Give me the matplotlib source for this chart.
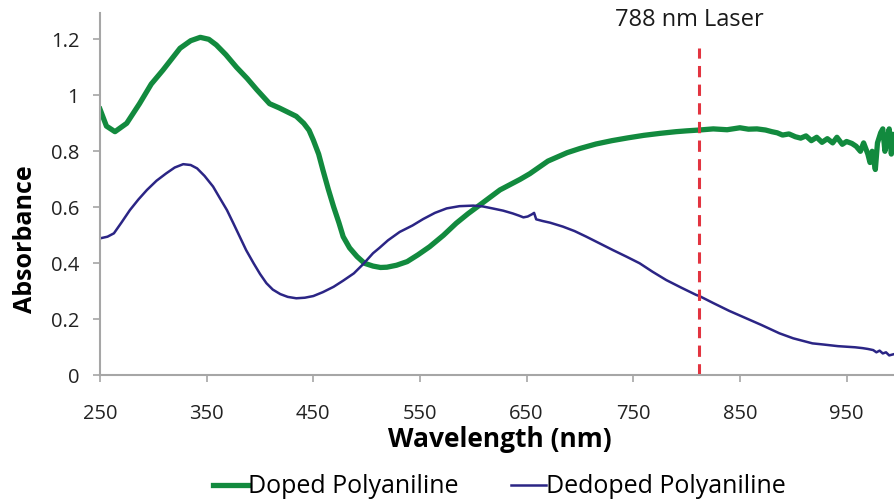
'''
UV-Vis absorbance of doped / dedoped polyaniline
'''

# Imports
import matplotlib
matplotlib.use('Agg')
import matplotlib.pyplot as plt

# Data
doped_nm = [250, 256, 264, 275, 287, 298, 309, 325, 335, 344, 352, 359, 368, 378, 388, 397,
            409, 418, 426, 434, 441, 446, 450, 455, 459, 464, 469, 474, 478, 484, 491, 498,
            506, 513, 519, 528, 538, 548, 559, 572, 584, 595, 606, 625, 644, 653, 670, 688,
            700, 715, 730, 745, 760, 775, 790, 800, 812, 825, 838, 850, 858, 866, 874, 880,
            885, 890, 896, 902, 907, 912, 917, 922, 927, 932, 937, 941, 946, 950, 955, 959,
            963, 966, 970, 972, 974, 977, 979, 982, 984, 986, 988, 990, 992, 994]
doped_abs = [0.95, 0.89, 0.87, 0.90, 0.97, 1.04, 1.09, 1.168, 1.195, 1.207, 1.20, 1.18, 1.145, 1.10, 1.06, 1.02,
             0.97, 0.955, 0.94, 0.925, 0.90, 0.875, 0.84, 0.79, 0.733, 0.665, 0.602, 0.545, 0.495, 0.455, 0.424, 0.40,
             0.39, 0.385, 0.386, 0.393, 0.406, 0.43, 0.459, 0.50, 0.543, 0.577, 0.608, 0.662, 0.70, 0.72, 0.765, 0.795,
             0.81, 0.826, 0.838, 0.848, 0.857, 0.864, 0.870, 0.873, 0.876, 0.880, 0.877, 0.884, 0.879, 0.880, 0.876, 0.870,
             0.866, 0.858, 0.862, 0.852, 0.847, 0.855, 0.838, 0.850, 0.832, 0.845, 0.830, 0.850, 0.825, 0.835, 0.828, 0.818,
             0.80, 0.83, 0.79, 0.76, 0.80, 0.735, 0.83, 0.866, 0.88, 0.80, 0.84, 0.88, 0.79, 0.86]

dedoped_nm = [250, 257, 263, 270, 278, 286, 294, 303, 312, 320, 328, 335, 341, 348, 356, 362,
              369, 375, 381, 387, 394, 400, 406, 412, 419, 426, 434, 442, 450, 459, 469, 478,
              488, 497, 506, 512, 520, 531, 543, 553, 564, 575, 587, 600, 609, 618, 628, 637,
              643, 647, 651, 655, 657, 659, 665, 672, 684, 695, 706, 718, 731, 744, 756, 768,
              781, 795, 809, 812, 825, 840, 855, 870, 887, 900, 910, 918, 928, 935, 942, 950,
              958, 965, 970, 975, 978, 981, 984, 987, 990, 994]
dedoped_abs = [0.489, 0.495, 0.507, 0.545, 0.59, 0.628, 0.662, 0.695, 0.721, 0.742, 0.754, 0.751, 0.739, 0.712, 0.674, 0.635,
               0.59, 0.543, 0.495, 0.447, 0.40, 0.362, 0.329, 0.306, 0.29, 0.28, 0.275, 0.277, 0.283, 0.297, 0.316, 0.338,
               0.364, 0.398, 0.436, 0.455, 0.482, 0.512, 0.535, 0.558, 0.58, 0.596, 0.604, 0.606, 0.603, 0.596, 0.588, 0.578,
               0.570, 0.564, 0.567, 0.575, 0.58, 0.557, 0.551, 0.545, 0.531, 0.515, 0.495, 0.472, 0.447, 0.423, 0.40, 0.37,
               0.34, 0.313, 0.287, 0.283, 0.258, 0.23, 0.205, 0.18, 0.15, 0.132, 0.122, 0.114, 0.11, 0.107, 0.104, 0.102,
               0.100, 0.097, 0.094, 0.09, 0.082, 0.088, 0.078, 0.082, 0.071, 0.075]

xticks = [250, 350, 450, 550, 650, 750, 850, 950]
yticks = [0, 0.2, 0.4, 0.6, 0.8, 1.0, 1.2]
ytick_labels = ['0', '0.2', '0.4', '0.6', '0.8', '1', '1.2']
laser_nm = 812
laser_label = '788 nm Laser'

# Style
plt.rcParams['font.family'] = ['Open Sans', 'DejaVu Sans']
green = '#128A3E'
blue = '#2B2585'
red = '#E23440'
gray = '#A6A6A6'

fig = plt.figure(figsize=(8.94, 5.04), dpi=100)
ax = fig.add_axes([0.1119, 0.2554, 0.8881, 0.7194])

ax.plot(doped_nm, doped_abs, color=green, lw=3.8, label='Doped Polyaniline', solid_joinstyle='round')
ax.plot(dedoped_nm, dedoped_abs, color=blue, lw=1.8, label='Dedoped Polyaniline')
ax.plot([laser_nm, laser_nm], [0, 1.17], color=red, lw=2.2, dashes=(3.7, 2.4))
ax.text(laser_nm - 9, 1.268, laser_label, fontsize=17, color='#1a1a1a', ha='center', va='center')

ax.set_xlim(250, 994.5)
ax.set_ylim(0, 1.295)
ax.set_xticks(xticks)
ax.set_yticks(yticks)
ax.set_yticklabels(ytick_labels)
ax.tick_params(colors=gray, labelcolor='#222222', labelsize=14.5, length=5, width=1.2, direction='out')
ax.tick_params(axis='x', pad=16)
ax.tick_params(axis='y', pad=10)
for s in ['top', 'right']:
    ax.spines[s].set_visible(False)
for s in ['left', 'bottom']:
    ax.spines[s].set_color(gray)
    ax.spines[s].set_linewidth(1.5)

ax.set_xlabel('Wavelength (nm)', fontsize=19, fontweight='bold', va='center')
ax.xaxis.set_label_coords(0.504, -0.178)
ax.set_ylabel('Absorbance', fontsize=18, fontweight='bold', va='center')
ax.yaxis.set_label_coords(-0.094, 0.376)

leg = fig.legend(loc='center', bbox_to_anchor=(0.5587, 0.034), ncol=2, frameon=False,
                 fontsize=18, handlelength=1.4, handletextpad=0.0, columnspacing=2.1)

fig.savefig('out.png', dpi=100)
